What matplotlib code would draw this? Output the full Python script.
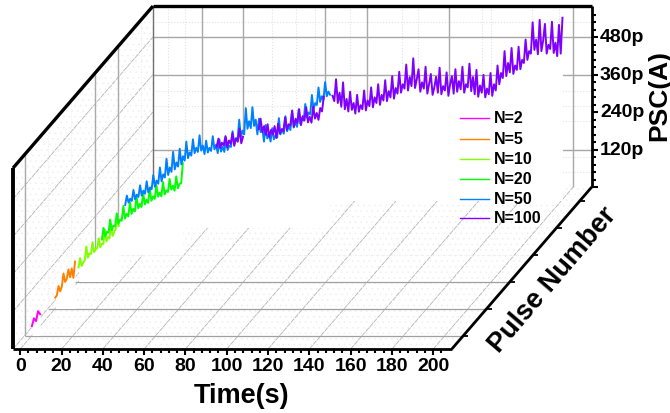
import numpy as np
import matplotlib; matplotlib.use("Agg")
import matplotlib.pyplot as plt
from matplotlib.patches import Polygon

plt.rcParams["font.family"]=["Liberation Sans","DejaVu Sans"]
plt.rcParams["hatch.linewidth"]=0.4
nan=float("nan")

labels=["N=2","N=5","N=10","N=20","N=50","N=100"]
colors=["#ff00ff","#ff8000","#80ff00","#00ff00","#0080ff","#8000ff"]
# PSC in pA
psc_2=[30,55,46,78,68]
psc_5=[35,42,72,55,70,112,85,95,125,100,128,98,150]
psc_10=[45,75,50,60,68,112,76,90,88,126,94,104,106,138,110,120,120,166,128,142,138,182,146,158,168,204,178]
psc_20=[48,85,58,72,70,112,78,92,90,132,98,112,108,155,115,130,122,168,130,146,138,186,148,162,
        152,198,160,175,165,212,172,186,178,222,185,198,186,232,192,205,200,242,208,220,204,250,212,226,228,292]
psc_50=[72,102,80,92,85,120,90,105,98,135,102,118,108,148,112,128,
        122,168,130,150,140,192,148,170,160,220,168,192,178,242,186,208,
        195,252,202,228,214,275,222,240,230,282,238,255,242,295,246,262,
        235,278,240,255,245,292,250,265,238,282,243,258,242,288,248,262,
        258,308,268,285,280,345,290,310,298,382,316,340,318,385,325,345,
        298,348,305,318,275,328,285,300,275,318,282,295,288,350,298,315,
        300,356,308,325,312,372,320,340,322,378,332,350,342,395,352,368,
        362,424,378,398,392,448,402,420,408,465,420,435,425]
# nan where the blue curve covers the purple one
psc_100=[172,198,168,185,176,206,170,192,181,216,175,199,188,230,183,204,
         nan,nan,nan,nan,nan,nan,nan,nan,
         228,262,219,238,210,244,203,226,212,238,200,246,214,228,222,266,226,244,240,288,
         236,262,248,292,241,270,256,298,250,268,249,301,262,280,258,296,285,332,
         nan,nan,nan,nan,
         335,318,388,312,345,300,378,292,325,285,348,290,312,278,338,284,305,292,352,288,
         320,302,362,298,330,312,372,306,338,320,385,318,350,330,398,326,360,342,412,345,
         372,358,435,352,395,366,455,360,388,420,348,378,358,428,342,372,405,338,362,396,
         345,425,340,366,352,410,335,372,398,342,420,348,382,356,428,345,372,362,438,350,
         395,340,418,332,368,345,402,330,358,340,408,335,372,352,432,372,408,392,478,398,
         440,410,488,405,432,418,492,420,450,440,515,450,478,470,570,482,515,468,578,478,
         512,565,470,498,485,572,472,505,462,562,470,585]
series=[psc_2,psc_5,psc_10,psc_20,psc_50,psc_100]
t_start=[0,0,0,0,0,33]
t_step=[1,0.8,0.75,0.8,0.8,0.85]

time_ticks=[0,20,40,60,80,100,120,140,160,180,200]
psc_ticks=[120,240,360,480]
back_t_solid=[20,40,80,100,140,200]
back_t_dotted=[4,12,54,66,75,92,117,125,156,160,180,193]
back_z_solid=[120,360,480]
back_z_dotted=[48,96,211,259,307,528]
side_solid=[1,4,5]
side_dotted=[2,3,6]

# pixel geometry of the Origin-style oblique box
X0,Y0=13.,350.; PX_T=2.065; PX_Z=0.3125; DX=23.33; DY=27.
T_MIN,T_MAX=-3.5,209.; D_MAX=6.; Z_MAX=579.
def pr(t,d,z):
    t=np.asarray(t,float); z=np.asarray(z,float)
    return X0+(t-T_MIN)*PX_T+d*DX, Y0-d*DY-z*PX_Z
def depth(i): return i-0.5   # series/category i sits half a step in

fig=plt.figure(figsize=(6.7,4.14),dpi=100)
ax=fig.add_axes([0,0,1,1]); ax.set_xlim(0,670); ax.set_ylim(414,0); ax.axis("off")
def seg(a,b,**k): ax.plot([a[0],b[0]],[a[1],b[1]],solid_capstyle="butt",**k)

# textured floor and side wall
fa=pr(T_MIN,0,0); fb=pr(T_MAX,0,0); fc=pr(T_MAX,D_MAX,0); fd=pr(T_MIN,D_MAX,0); ft=pr(T_MIN,D_MAX,Z_MAX); fe=pr(T_MIN,0,Z_MAX); fr=pr(T_MAX,D_MAX,Z_MAX)
for pts in ([fa,fb,fc,fd],[fa,fe,ft,fd]):
    ax.add_patch(Polygon(pts,facecolor="white",edgecolor="#efefef",hatch="...",lw=0,zorder=1))

# floor grid
for t in time_ticks:
    seg(pr(t,0,0),pr(t,D_MAX,0),color="#b4b4b4",lw=0.6,ls=(0,(6,1)),zorder=2)
for i in (1,2,3):
    seg(pr(T_MIN,depth(i),0),pr(T_MAX,depth(i),0),color="#a0a0a0",lw=0.9,zorder=2)
seg(pr(T_MIN,depth(4),0),pr(T_MAX,depth(4),0),color="#ececec",lw=0.7,ls=":",zorder=2)

# side wall grid
for z in psc_ticks+[0]:
    seg(pr(T_MIN,0,z),pr(T_MIN,D_MAX,z),color="#b4b4b4",lw=0.6,ls=(0,(6,1)),zorder=2)
for i in side_solid:
    seg(pr(T_MIN,depth(i),0),pr(T_MIN,depth(i),Z_MAX),color="#aaaaaa",lw=1,zorder=2)
for i in side_dotted:
    seg(pr(T_MIN,depth(i),0),pr(T_MIN,depth(i),Z_MAX),color="#ececec",lw=0.7,ls=":",zorder=2)

# back wall grid
for t in back_t_solid:
    seg(pr(t,D_MAX,0),pr(t,D_MAX,Z_MAX),color="#a8a8a8",lw=1,zorder=2)
for t in back_t_dotted:
    seg(pr(t,D_MAX,0),pr(t,D_MAX,Z_MAX),color="#e2e2e2",lw=0.8,ls=":",zorder=2)
for z in back_z_solid:
    seg(pr(T_MIN,D_MAX,z),pr(T_MAX,D_MAX,z),color="#aaa6a8",lw=1,zorder=2)
for z in back_z_dotted:
    seg(pr(T_MIN,D_MAX,z),pr(T_MAX,D_MAX,z),color="#e2e2e2",lw=0.8,ls=":",zorder=2)
seg(fd,ft,color="#707070",lw=1,zorder=2)

# white ribbon under each curve, hides the grids behind it
curves=[]
for k,vals in enumerate(series):
    v=np.array(vals,float); t=t_start[k]+t_step[k]*np.arange(len(v)); d=depth(k+1)
    x,y=pr(t,d,v); curves.append((x,y)); ok=np.isfinite(v)
    ax.fill_between(x[ok],y[ok],pr(0,d,0)[1],color="white",lw=0,zorder=3)
for k,(x,y) in enumerate(curves):
    ax.plot(x,y,color=colors[k],lw=1.4,zorder=4+k*0.1)

# box edges
blk=dict(color="black",zorder=6)
seg(fa,fb,lw=2,**blk); seg(fb,fc,lw=2,**blk); seg(fc,fr,lw=2,**blk)
seg(fa,fe,lw=2.8,**blk); seg(fe,ft,lw=2.4,**blk); seg(ft,fr,lw=2.4,**blk)

# ticks, minor ones every fifth of a major step
for t in np.arange(0,205,4):
    p=pr(t,0,0); L=6 if t%20==0 else 4
    seg(p,(p[0],p[1]+L),lw=1.5,**blk)
for i in range(1,7):
    p=pr(T_MAX,depth(i),0); seg(p,(p[0]+5,p[1]),lw=1.3,**blk)
for z in np.arange(0,576,24):
    p=pr(T_MAX,D_MAX,z); L=6 if z%120==0 else 4
    seg(p,(p[0]+L,p[1]),lw=1.5,**blk)

for t in time_ticks:
    ax.text(pr(t,0,0)[0],367,str(t),ha="center",va="center",fontsize=14,fontweight="bold",zorder=7)
for z in psc_ticks:
    ax.text(600,pr(T_MAX,D_MAX,z)[1],"%dp"%z,ha="left",va="center",fontsize=14,fontweight="bold",zorder=7)
ax.text(242,396,"Time(s)",ha="center",va="center",fontsize=19.5,fontweight="bold")
ax.text(659,96,"PSC(A)",ha="center",va="center",rotation=90,fontsize=19,fontweight="bold")
ax.text(553,280,"Pulse Number",ha="center",va="center",rotation=49.5,rotation_mode="anchor",fontsize=19.5,fontweight="bold")

# legend drawn by hand, sits inside the plot box
for k,(lab,ly) in enumerate(zip(labels,[118.5,139.5,160,180,200,219])):
    ax.plot([460,489],[ly,ly],color=colors[k],lw=1,zorder=8)
    ax.text(494,ly,lab,ha="left",va="center",fontsize=11.5,fontweight="bold",zorder=8)

fig.savefig("out.png",dpi=100)
